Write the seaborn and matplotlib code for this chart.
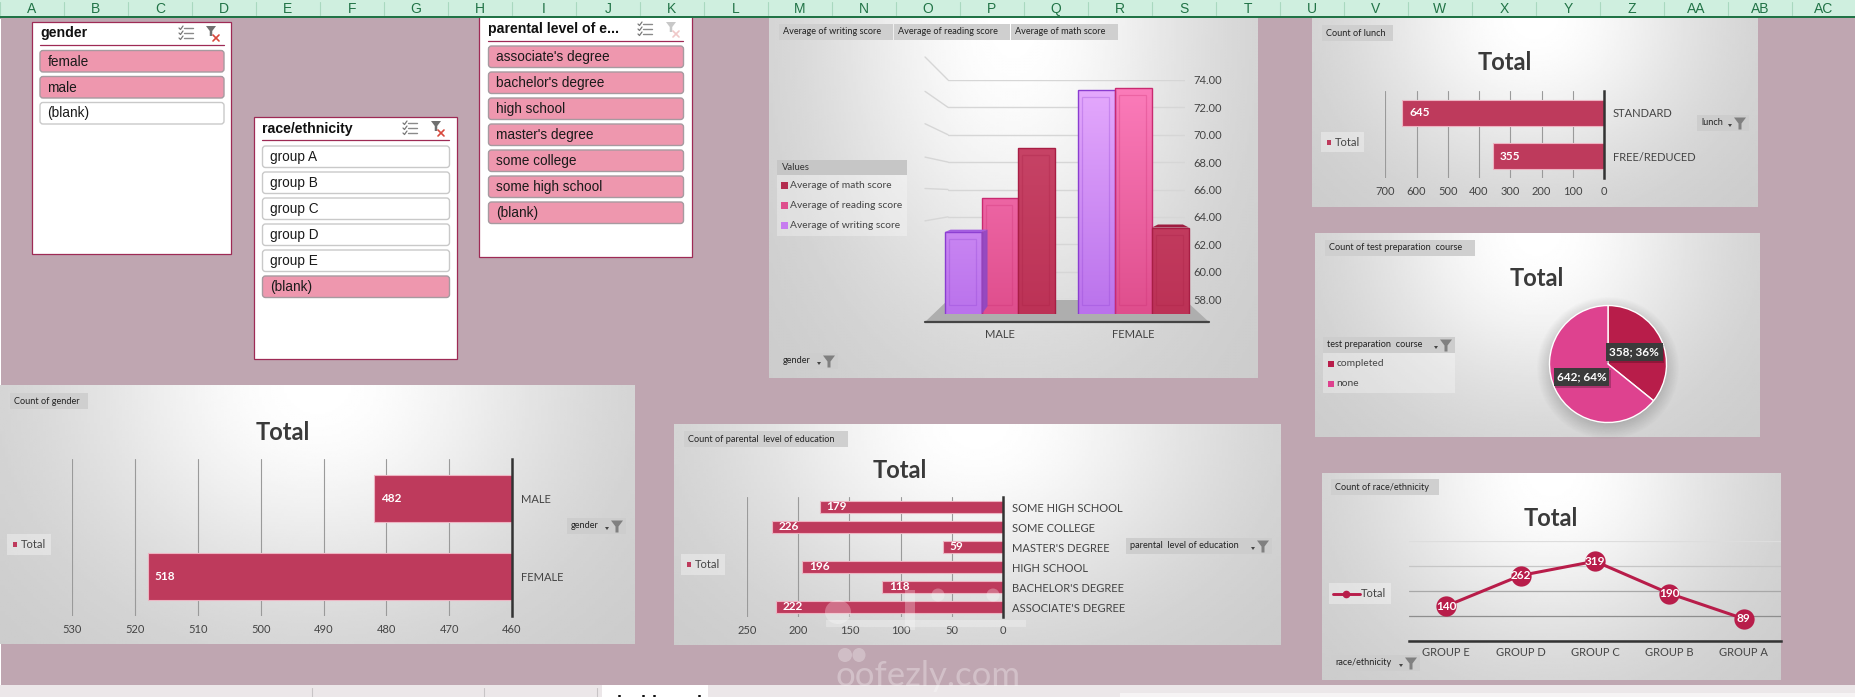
import numpy as np
import pandas as pd
import seaborn as sns
import matplotlib
matplotlib.use("Agg")
import matplotlib.pyplot as plt
from matplotlib.colors import LinearSegmentedColormap
from matplotlib.patches import Rectangle, FancyBboxPatch, Polygon, Ellipse

W, H = 1856, 697

# data
columns = ["A", "B", "C", "D", "E", "F", "G", "H", "I", "J", "K", "L", "M", "N", "O",
           "P", "Q", "R", "S", "T", "U", "V", "W", "X", "Y", "Z", "AA", "AB", "AC"]

gender_items = ["female", "male", "(blank)"]
gender_selected = [True, True, False]
race_items = ["group A", "group B", "group C", "group D", "group E", "(blank)"]
race_selected = [False, False, False, False, False, True]
edu_items = ["associate's degree", "bachelor's degree", "high school", "master's degree",
             "some college", "some high school", "(blank)"]
edu_selected = [True] * 7

score_genders = ["MALE", "FEMALE"]
avg_writing = [63.3, 72.5]
avg_reading = [65.5, 72.6]
avg_math = [68.7, 63.6]

gender_cats = ["MALE", "FEMALE"]
gender_counts = [482, 518]

edu_cats = ["SOME HIGH SCHOOL", "SOME COLLEGE", "MASTER'S DEGREE", "HIGH SCHOOL",
            "BACHELOR'S DEGREE", "ASSOCIATE'S DEGREE"]
edu_counts = [179, 226, 59, 196, 118, 222]

lunch_cats = ["STANDARD", "FREE/REDUCED"]
lunch_counts = [645, 355]

prep_cats = ["completed", "none"]
prep_counts = [358, 642]

race_cats = ["GROUP E", "GROUP D", "GROUP C", "GROUP B", "GROUP A"]
race_counts = [140, 262, 319, 190, 89]

BG = "#BFA6B1"
CRIMSON = "#BE3A5C"
DARK = "#3a3a3a"
CHART_FONT = "Lato"
SLICER_FONT = "Liberation Sans"

sns.set_theme(style="white")
plt.rcParams["font.family"] = [CHART_FONT, "DejaVu Sans"]

fig = plt.figure(figsize=(W / 100, H / 100), dpi=100, facecolor=BG)


def px_axes(x0, y0, x1, y1, zorder=5):
    ax = fig.add_axes([x0 / W, 1 - y1 / H, (x1 - x0) / W, (y1 - y0) / H], zorder=zorder)
    ax.set_facecolor("none")
    return ax


bg = px_axes(0, 0, W, H, zorder=0)
bg.set_xlim(0, W)
bg.set_ylim(H, 0)
bg.set_autoscale_on(False)
bg.axis("off")
top = px_axes(0, 0, W, H, zorder=20)
top.set_xlim(0, W)
top.set_ylim(H, 0)
top.set_autoscale_on(False)
top.axis("off")


def panel(x0, y0, x1, y1):
    yy, xx = np.mgrid[0:1:120j, 0:1:200j]
    r = np.sqrt(((xx - 0.5) / 0.5) ** 2 + (yy / 1.05) ** 2)
    val = 0.79 + 0.21 * np.exp(-(r * 1.25) ** 2)
    bg.imshow(val, extent=(x0, x1, y1, y0), aspect="auto", cmap="gray", vmin=0, vmax=1, zorder=1)


def box(ax, x0, y0, x1, y1, color, alpha=1.0, zorder=2, **kw):
    ax.add_patch(Rectangle((x0, y0), x1 - x0, y1 - y0, facecolor=color, edgecolor="none",
                           alpha=alpha, zorder=zorder, **kw))


def funnel(ax, cx, cy, size, color="#808080"):
    pts = [(cx - size, cy - size), (cx + size, cy - size), (cx + size * 0.25, cy),
           (cx + size * 0.25, cy + size), (cx - size * 0.25, cy + size), (cx - size * 0.25, cy)]
    ax.add_patch(Polygon(pts, closed=True, facecolor=color, edgecolor="none", zorder=4))


def tab(x0, y0, x1, y1, label):
    box(top, x0, y0, x1, y1, "#cfcfcf", zorder=3)
    top.text(x0 + 4, (y0 + y1) / 2, label, fontsize=6.6, color="#222222", va="center", zorder=4)


def filter_btn(x0, y0, x1, y1, label):
    box(top, x0, y0, x1, y1, "#cdcdcd", zorder=3)
    top.text(x0 + 4, (y0 + y1) / 2 - 0.5, label, fontsize=6.6, color="#222222", va="center", zorder=4)
    funnel(top, x1 - 9, (y0 + y1) / 2 + 0.5, 6)
    top.add_patch(Polygon([(x1 - 21, y0 + 9), (x1 - 17, y0 + 9), (x1 - 19, y0 + 12)],
                          closed=True, facecolor="#444444", edgecolor="none", zorder=4))


def total_legend(x0, y0, x1, y1):
    box(top, x0, y0, x1, y1, "#ffffff", alpha=0.35, zorder=3)
    cy = (y0 + y1) / 2
    box(top, x0 + 6, cy - 2.5, x0 + 10, cy + 2.5, CRIMSON, zorder=4)
    top.text(x0 + 14, cy, "Total", fontsize=8, color="#444444", va="center", zorder=4)


def slicer(x0, y0, x1, y1, title, items, selected, line_y, btn_x0, btn_x1, btn_y, icons, faded=False):
    bg.add_patch(Rectangle((x0, y0), x1 - x0, y1 - y0, facecolor="white", edgecolor="#9E2A55",
                           linewidth=0.9, zorder=2))
    bg.text(btn_x0, line_y - 11.5, title, fontfamily=SLICER_FONT, fontsize=10.2, fontweight="bold",
            color="#111111", va="center", zorder=3)
    bg.plot([btn_x0, btn_x1], [line_y, line_y], color="#9E2A55", lw=0.9, zorder=3)
    for i, (name, on) in enumerate(zip(items, selected)):
        y = btn_y + i * 26
        bg.add_patch(FancyBboxPatch((btn_x0, y), btn_x1 - btn_x0, 21.5, boxstyle="round,pad=0,rounding_size=3",
                                    facecolor="#EE97AE" if on else "white",
                                    edgecolor="#a79aa0" if on else "#c9c9c9", linewidth=1, zorder=3))
        bg.text(btn_x0 + 7.5, y + 11, name, fontfamily=SLICER_FONT, fontsize=9.8,
                color="#1a1a1a", va="center", zorder=4)
    # multi-select and clear-filter icons
    ix, fx = icons
    iy = line_y - 12
    for k in (-5, 0, 5):
        bg.plot([ix - 2, ix + 7], [iy + k, iy + k], color="#8a8a8a", lw=1, zorder=4)
        bg.plot([ix - 7, ix - 5.5, ix - 3], [iy + k, iy + k + 1.5, iy + k - 2], color="#777777", lw=0.9, zorder=4)
    grey = "#c8c8c8" if faded else "#707070"
    funnel(bg, fx - 2, iy - 2, 5, color=grey)
    red = "#f0c8c8" if faded else "#d8483c"
    bg.plot([fx, fx + 6], [iy + 2, iy + 8], color=red, lw=1.2, zorder=5)
    bg.plot([fx + 6, fx], [iy + 2, iy + 8], color=red, lw=1.2, zorder=5)


def hbar_chart(x0, y0, x1, y1, cats, counts, xlim, ticks, label_pad, fs=8):
    ax = px_axes(x0, y0, x1, y1)
    df = pd.DataFrame({"cat": cats, "count": counts})
    sns.barplot(data=df, x="count", y="cat", order=cats, color=CRIMSON, saturation=1, width=0.6,
                edgecolor="#EDB4C2", linewidth=0.8, ax=ax)
    ax.set_xlim(*xlim)
    ax.set_xticks(ticks)
    ax.set_xlabel("")
    ax.set_ylabel("")
    ax.yaxis.tick_right()
    ax.grid(axis="x", color="#9a9a9a", linewidth=0.8)
    ax.set_axisbelow(True)
    sns.despine(ax=ax, left=True, top=True, bottom=True, right=False)
    ax.spines["right"].set_color("#333333")
    ax.spines["right"].set_linewidth(1.8)
    ax.tick_params(axis="x", length=0, pad=6, labelsize=fs, labelcolor="#444444")
    ax.tick_params(axis="y", length=0, pad=label_pad, labelsize=fs, labelcolor="#444444")
    for i, v in enumerate(counts):
        ax.annotate(str(v), xy=(v, i), xytext=(5, 0), textcoords="offset points", color="white",
                    fontweight="bold", fontsize=8.5, va="center", ha="left")
    return ax


# sheet background and header
box(bg, 0, 19, 1.5, H, "#ffffff", zorder=1)
box(bg, 0, 685, W, H, "#ece7e9", zorder=1)
box(bg, 1120, 693, W, H, "#f6f3f4", zorder=1)
box(bg, 602, 685, 708, H, "#ffffff", zorder=1)
for sx in (312, 484, 597):
    bg.plot([sx, sx], [688, H], color="#c8c4c6", lw=0.8, zorder=2)
bg.text(656, 695.5, "dashboard", fontfamily=SLICER_FONT, fontsize=13, fontweight="bold",
        color="#111111", ha="center", va="top", zorder=3, clip_on=True)

panel(769, 18, 1258, 378)
panel(1312, 18, 1758, 207)
panel(1315, 233, 1760, 437)
panel(0, 385, 635, 644)
panel(674, 424, 1281, 645)
panel(1322, 473, 1781, 680)

box(top, 0, 0, W, 16, "#CFEFDF", zorder=1)
box(top, 0, 16, W, 18, "#217346", zorder=1)
for i, name in enumerate(columns):
    top.plot([64 * i, 64 * i], [2, 15], color="#a9d8bf", lw=0.8, zorder=2)
    top.text(32 + 64 * i, 9, name, fontfamily=SLICER_FONT, fontsize=10, color="#217346",
             ha="center", va="center", zorder=2)

# slicers
slicer(32.5, 22, 231, 254, "gender", gender_items, gender_selected, 45, 40, 224, 50.5, (186, 213))
slicer(254.5, 117, 457, 359, "race/ethnicity", race_items, race_selected, 140, 262.5, 449.5, 146, (410, 438))
slicer(479, 14, 692, 257, "parental level of e...", edu_items, edu_selected, 41, 488.5, 683.5, 46, (645, 673), faded=True)

# average scores, 3D look built around a seaborn barplot
tab(779, 24, 893, 40, "Average of writing score")
tab(894, 24, 1010, 40, "Average of reading score")
tab(1011, 24, 1118, 40, "Average of math score")

box(top, 777, 160, 907, 236, "#ffffff", alpha=0.3, zorder=2)
box(top, 777, 160, 907, 175, "#c6c6c6", zorder=3)
top.text(782, 167, "Values", fontsize=6.8, color="#333333", va="center", zorder=4)
legend_rows = [("Average of math score", "#B32D50"), ("Average of reading score", "#DE4F8D"),
               ("Average of writing score", "#C77CF0")]
for k, (lab, col) in enumerate(legend_rows):
    ly = 185.5 + k * 20
    box(top, 781, ly - 3.5, 788, ly + 3.5, col, zorder=4)
    top.text(790, ly, lab, fontsize=7.4, color="#444444", va="center", zorder=4)
filter_btn(779, 353, 838, 369, "gender")

grid_ax = px_axes(948, 80, 1185, 299, zorder=3)
grid_ax.set_ylim(58, 74)
grid_ax.set_yticks(range(58, 76, 2))
grid_ax.set_yticklabels([f"{v:.2f}" for v in range(58, 76, 2)])
grid_ax.set_xticks([])
grid_ax.yaxis.tick_right()
grid_ax.grid(axis="y", color="#d6d6d6", linewidth=1)
grid_ax.tick_params(axis="y", length=0, pad=6, labelsize=8, labelcolor="#444444")
sns.despine(ax=grid_ax, left=True, right=True, top=True, bottom=True)
for gv, off in zip(range(74, 62, -2), (-23, -16, -11, -5, -1, 4)):
    gy = 299 - (gv - 58) * 13.69
    bg.plot([925, 948], [gy + off, gy], color="#d6d6d6", lw=1, zorder=2)
bg.add_patch(Polygon([(925, 322), (948, 300), (1185, 300), (1209, 322)], closed=True,
                     facecolor="#aeaeae", edgecolor="none", zorder=2))
bg.plot([925, 1209], [322, 322], color="#444444", lw=1.6, zorder=3)

score_df = pd.DataFrame({
    "gender": score_genders * 3,
    "score": avg_writing + avg_reading + avg_math,
    "kind": ["writing"] * 2 + ["reading"] * 2 + ["math"] * 2,
})
bar_ax = px_axes(925, 57, 1209, 314.3, zorder=4)
sns.barplot(data=score_df, x="gender", y="score", hue="kind", order=score_genders, gap=0, width=0.83,
            hue_order=["writing", "reading", "math"], palette=["#C77CF0", "#E2508F", "#C1395F"],
            legend=False, ax=bar_ax)
x_lim = (-75 / 133.5, 209 / 133.5)
y_lim = (58, 58 + 257.3 / 15.5)
bar_ax.set_xlim(*x_lim)
bar_ax.set_ylim(*y_lim)
bar_ax.set_xlabel("")
bar_ax.set_ylabel("")
bar_ax.set_yticks([])
bar_ax.tick_params(axis="x", length=0, pad=10.5, labelsize=8, labelcolor="#444444")
sns.despine(ax=bar_ax, left=True, right=True, top=True, bottom=True)

ramps = [("#BA72EC", "#EAB0FF", "#8A3CD0"), ("#DF4E8D", "#FF82C0", "#C92A70"), ("#BC3256", "#CC4C6E", "#A81E44")]
ramp = np.linspace(1, 0, 100).reshape(-1, 1)
dx, dy = 1 / 133.5, 1 / 15.5
for cont, (lo, hi, edge) in zip(bar_ax.containers, ramps):
    cmap = LinearSegmentedColormap.from_list("r", [lo, hi])
    for p in cont:
        im = bar_ax.imshow(ramp, extent=(*x_lim, *y_lim), aspect="auto", cmap=cmap, zorder=2)
        im.set_clip_path(p)
        p.set_facecolor("none")
        p.set_edgecolor(edge)
        p.set_linewidth(1)
        p.set_zorder(4)
        bx, bw, bh = p.get_x(), p.get_width(), p.get_height()
        # back face of the column, seen through the front
        bar_ax.add_patch(Rectangle((bx + 4 * dx, 58 + 9 * dy), bw - 10 * dx, bh - 58 - 16 * dy, facecolor="none",
                                   edgecolor=edge, alpha=0.28, linewidth=0.9, zorder=3))
# flank of the column that stands clear of its neighbour
wall = bar_ax.containers[0][0]
wx = wall.get_x() + wall.get_width()
wt = wall.get_height()
bar_ax.add_patch(Polygon([(wx, 58), (wx + 6 * dx, 58 + 8 * dy), (wx + 6 * dx, wt + 2.5 * dy), (wx, wt)],
                         closed=True, facecolor="#8A48C8", edgecolor="none", alpha=0.85, zorder=5))
bar_ax.add_patch(Polygon([(wall.get_x(), wt), (wall.get_x() + 6 * dx, wt + 2.5 * dy), (wx + 6 * dx, wt + 2.5 * dy), (wx, wt)],
                         closed=True, facecolor="#A45CE0", edgecolor="none", zorder=5))
cap = bar_ax.containers[2][1]
cx0 = cap.get_x()
cx1 = cx0 + cap.get_width()
ct = cap.get_height()
bar_ax.add_patch(Polygon([(cx0, ct), (cx0 + 6 * dx, ct + 3 * dy), (cx1 - 6 * dx, ct + 3 * dy), (cx1, ct)],
                         closed=True, facecolor="#9E1C40", edgecolor="none", zorder=5))
bar_ax.set_xlim(*x_lim)
bar_ax.set_ylim(*y_lim)

# count of gender
tab(10, 393, 88, 409, "Count of gender")
top.text(283, 432, "Total", fontsize=17, fontweight="bold", color=DARK, ha="center", va="center", zorder=4)
hbar_chart(72.4, 459, 512, 616, gender_cats, gender_counts, (530, 460), range(460, 540, 10), 6.5)
total_legend(7, 534, 51, 555)
filter_btn(567, 518, 626, 534, "gender")

# count of parental level of education
tab(684, 431, 848, 447, "Count of parental  level of education")
top.text(900, 470, "Total", fontsize=17, fontweight="bold", color=DARK, ha="center", va="center", zorder=4)
hbar_chart(747, 497, 1003, 617, edu_cats, edu_counts, (250, 0), range(0, 300, 50), 6.5)
total_legend(681, 554, 725, 575)
filter_btn(1126, 538, 1272, 554, "parental  level of education")

# count of lunch
tab(1322, 25, 1393, 41, "Count of lunch")
top.text(1504.5, 63, "Total", fontsize=17, fontweight="bold", color=DARK, ha="center", va="center", zorder=4)
hbar_chart(1385.3, 91, 1604, 178, lunch_cats, lunch_counts, (700, 0), range(0, 800, 100), 6.5)
total_legend(1321, 132, 1364, 152)
filter_btn(1697, 115, 1749, 131, "lunch")

# count of test preparation course
tab(1325, 240, 1475, 256, "Count of test preparation  course")
top.text(1537, 278, "Total", fontsize=17, fontweight="bold", color=DARK, ha="center", va="center", zorder=4)
box(top, 1323, 353, 1455, 393, "#ffffff", alpha=0.3, zorder=2)
filter_btn(1323, 337, 1455, 353, "test preparation  course")
pie_colors = ["#B81D4A", "#DE428F"]
for k, (lab, col) in enumerate(zip(prep_cats, pie_colors)):
    ly = 363.5 + k * 20
    box(top, 1328, ly - 3, 1334, ly + 3, col, zorder=4)
    top.text(1336.5, ly, lab, fontsize=7.4, color="#444444", va="center", zorder=4)

yy, xx = np.mgrid[-1:1:200j, -1:1:200j]
shade = np.zeros((200, 200, 4))
shade[..., 3] = 0.2 * np.clip((1 - np.hypot(xx, yy)) / 0.25, 0, 1)
bg.imshow(shade, extent=(1608 - 72, 1608 + 72, 368 + 72, 368 - 72), aspect="auto", zorder=2)

pie_ax = px_axes(1608 - 58.5, 364 - 58.5, 1608 + 58.5, 364 + 58.5)
pie_ax.pie(prep_counts, startangle=90, counterclock=False, colors=pie_colors, radius=1)
pie_ax.set_xlim(-1, 1)
pie_ax.set_ylim(-1, 1)
for v, (bx0, by0, bx1, by1) in zip(prep_counts, [(1606, 343, 1662.6, 361), (1554, 368, 1609.5, 386)]):
    box(top, bx0 + 1.5, by0 + 1.5, bx1 + 1.5, by1 + 1.5, "#000000", alpha=0.22, zorder=3)
    box(top, bx0, by0, bx1, by1, "#3b3b3b", zorder=4)
    pct = round(100 * v / sum(prep_counts))
    top.text((bx0 + bx1) / 2, (by0 + by1) / 2, f"{v}; {pct}%", color="white", fontweight="bold",
             fontsize=8.5, ha="center", va="center", zorder=5)

# count of race/ethnicity
tab(1331, 479, 1439, 495, "Count of race/ethnicity")
top.text(1551, 518, "Total", fontsize=17, fontweight="bold", color=DARK, ha="center", va="center", zorder=4)
line_ax = px_axes(1409, 541, 1781, 641)
race_df = pd.DataFrame({"group": race_cats, "count": race_counts})
sns.lineplot(data=race_df, x="group", y="count", sort=False, color="#B81D4A", marker="o", markersize=14.6,
             markeredgewidth=0, linewidth=2.2, ax=line_ax)
line_ax.set_xlim(-0.5, 4.5)
line_ax.set_ylim(0, 400)
line_ax.set_yticks([0, 100, 200, 300, 400])
line_ax.set_xlabel("")
line_ax.set_ylabel("")
line_ax.grid(axis="y", linewidth=0.9)
line_ax.set_axisbelow(True)
for gl, col in zip(line_ax.get_ygridlines(), ["#333333", "#8e8e8e", "#a8a8a8", "#c6c6c6", "#dddddd"]):
    gl.set_color(col)
line_ax.tick_params(axis="y", length=0, labelleft=False)
line_ax.tick_params(axis="x", length=0, pad=4, labelsize=8, labelcolor="#444444")
sns.despine(ax=line_ax, left=True, top=True, right=True)
line_ax.spines["bottom"].set_color("#333333")
line_ax.spines["bottom"].set_linewidth(1.8)
for i, v in enumerate(race_counts):
    line_ax.text(i, v, str(v), color="white", fontweight="bold", fontsize=8.5, ha="center", va="center", zorder=5)

box(top, 1329, 583, 1391, 604, "#ffffff", alpha=0.35, zorder=3)
top.plot([1333, 1360], [593.5, 593.5], color="#B81D4A", lw=2.1, zorder=4)
top.plot([1346.5], [593.5], "o", color="#B81D4A", markersize=4.5, zorder=4)
top.text(1361, 593.5, "Total", fontsize=8, color="#444444", va="center", zorder=4)
filter_btn(1331, 655, 1420, 671, "race/ethnicity")

# site watermark
wm = dict(facecolor="white", edgecolor="none", alpha=0.28, zorder=9)
top.add_patch(Ellipse((845, 655), 14, 14, **wm))
top.add_patch(Ellipse((859, 655), 13, 14, **wm))
top.add_patch(Ellipse((938, 595), 13, 13, **wm))
top.add_patch(Ellipse((993, 595), 13, 13, **wm))
top.add_patch(Ellipse((838, 612), 26, 24, **wm))
top.add_patch(Rectangle((905, 590), 10, 40, **wm))
top.add_patch(Rectangle((826, 620), 200, 7, **wm))
top.text(928, 686, "oofezly.com", fontsize=25, color="white", alpha=0.3, ha="center", va="baseline", zorder=9)

fig.savefig("out.png", dpi=100, facecolor=BG)
